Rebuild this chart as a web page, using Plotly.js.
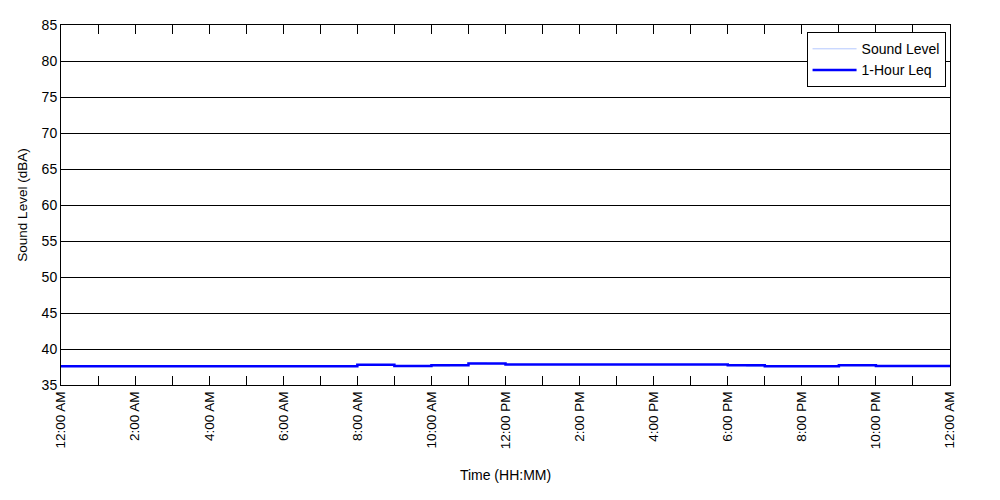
<!DOCTYPE html>
<html>
<head>
<meta charset="utf-8">
<script src="https://cdn.plot.ly/plotly-3.0.1.min.js"></script>
<style>html,body{margin:0;padding:0;background:#fff;}#chart{width:1000px;height:500px;}</style>
</head>
<body>
<div id="chart"></div>
<script>
// Hours since midnight
var levelHours = [0,0.5,1,1.5,2,2.5,3,3.5,4,4.5,5,5.5,6,6.5,7,7.5,8,8.5,9,9.5,10,10.5,11,11.5,12,12.5,13,13.5,14,14.5,15,15.5,16,16.5,17,17.5,18,18.5,19,19.5,20,20.5,21,21.5,22,22.5,23,23.5,24];
var levelValues = [37.6,37.6,37.6,37.6,37.6,37.6,37.6,37.6,37.6,37.6,37.6,37.6,37.6,37.6,37.6,37.6,37.85,37.8,37.6,37.6,37.65,37.8,38.05,37.95,37.85,37.85,37.85,37.85,37.85,37.85,37.85,37.85,37.85,37.85,37.85,37.85,37.85,37.6,37.6,37.6,37.6,37.6,37.75,37.75,37.6,37.6,37.6,37.6,37.6];
var leqHours = [0,1,2,3,4,5,6,7,8,9,10,11,12,13,14,15,16,17,18,19,20,21,22,23,24];
var leqValues = [37.6,37.6,37.6,37.6,37.6,37.6,37.6,37.6,37.8,37.65,37.75,38.0,37.85,37.85,37.85,37.85,37.85,37.85,37.75,37.6,37.6,37.75,37.65,37.65,37.65];
var tickHours = [0,1,2,3,4,5,6,7,8,9,10,11,12,13,14,15,16,17,18,19,20,21,22,23,24];
var tickLabels = ['12:00 AM','','2:00 AM','','4:00 AM','','6:00 AM','','8:00 AM','','10:00 AM','','12:00 PM','','2:00 PM','','4:00 PM','','6:00 PM','','8:00 PM','','10:00 PM','','12:00 AM'];

var traces = [
  {x: levelHours, y: levelValues, name: 'Sound Level', mode: 'lines', line: {color: '#b4c8ff', width: 1, shape: 'hv'}},
  {x: leqHours, y: leqValues, name: '1-Hour Leq', mode: 'lines', line: {color: '#0000ff', width: 2.5, shape: 'hv'}}
];
var font = {family: 'Liberation Sans, Arial, sans-serif', size: 13, color: '#000'};
var layout = {
  width: 1000, height: 500,
  margin: {l: 61, r: 50, t: 25, b: 115},
  paper_bgcolor: '#fff', plot_bgcolor: '#fff',
  font: font,
  showlegend: true,
  legend: {x: 0.995, y: 0.98, xanchor: 'right', yanchor: 'top', bgcolor: '#fff', bordercolor: '#000', borderwidth: 1, itemwidth: 44, font: {family: font.family, size: 14}, tracegroupgap: 0},
  xaxis: {
    range: [0, 24], tickmode: 'array', tickvals: tickHours, ticktext: tickLabels,
    tickangle: -90, ticks: 'inside', ticklen: 9, tickcolor: '#000', tickwidth: 1,
    showgrid: false, zeroline: false, showline: true, linecolor: '#000', linewidth: 1, mirror: 'ticks',
    tickfont: {family: font.family, size: 13.5},
    title: {text: 'Time (HH:MM)', font: {family: font.family, size: 14}, standoff: 22}
  },
  yaxis: {
    range: [35, 85], tickmode: 'linear', tick0: 35, dtick: 5,
    ticks: 'inside', ticklen: 5, tickcolor: '#000',
    showgrid: true, gridcolor: '#000', gridwidth: 1, zeroline: false,
    showline: true, linecolor: '#000', linewidth: 1, mirror: true,
    tickfont: {family: font.family, size: 14},
    title: {text: 'Sound Level (dBA)', font: {family: font.family, size: 13.5}, standoff: 10}
  }
};
Plotly.newPlot('chart', traces, layout, {displayModeBar: false, staticPlot: true});
</script>
</body>
</html>
